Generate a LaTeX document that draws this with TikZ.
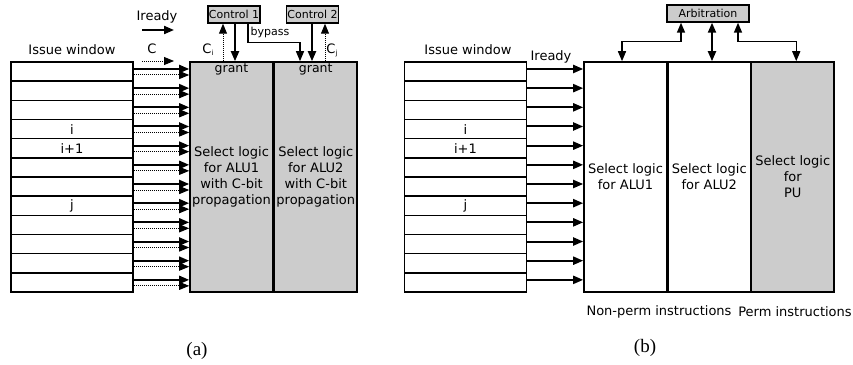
\documentclass[tikz,border=0pt]{standalone}
\usepackage{fontspec}
\setmainfont{DejaVu Sans}
\newfontfamily\capfont{Liberation Serif}
\usetikzlibrary{arrows.meta}

\tikzset{
    >={Triangle[length=10pt,width=8pt]},
    slot/.style={draw, line width=1.5pt, minimum width=122pt, minimum height=19.17pt, inner sep=0pt, font=\fontsize{13}{16}\selectfont},
    selbox/.style={draw, line width=1.6pt, minimum width=83pt, minimum height=230pt, inner sep=0pt, align=center, font=\fontsize{13}{16}\selectfont},
    ctrl/.style={draw, line width=1.4pt, fill=gray!40, inner sep=1pt, minimum height=17pt, font=\fontsize{11}{13}\selectfont},
    ready/.style={line width=2pt, ->},
    cbit/.style={line width=1pt, dash pattern=on 1pt off 1pt, ->},
    lbl/.style={inner sep=0pt, font=\fontsize{13}{16}\selectfont},
    small/.style={inner sep=0pt, font=\fontsize{11}{13}\selectfont},
    subcap/.style={inner sep=0pt, font=\capfont\fontsize{19}{22}\selectfont}
}

\begin{document}
\begin{tikzpicture}[x=1pt, y=-1pt]
    \useasboundingbox (0,0) rectangle (853,364);

    % ---------- (a) ----------
    % Issue window
    \node[lbl] (iwa) at (72,50) {Issue window};
    \foreach \k/\t in {1/{},2/{},3/{},4/i,5/i+1,6/{},7/{},8/j,9/{},10/{},11/{},12/{}}
        \node[slot] (wa\k) at (72, 52.415+19.17*\k) {\t};

    % Select logic blocks
    \node[selbox, fill=gray!40] (sa1) at (231.5,177) {Select logic\\for ALU1\\with C-bit\\propagation};
    \node[selbox, fill=gray!40] (sa2) at (315.75,177) {Select logic\\for ALU2\\with C-bit\\propagation};
    \node[small, font=\fontsize{12.5}{14}\selectfont, below=2pt] (ga1) at (sa1.north) {grant};
    \node[small, font=\fontsize{12.5}{14}\selectfont, below=2pt] (ga2) at (sa2.north) {grant};

    % Ready and C-bit lines
    \foreach \k in {1,...,12} {
        \draw[ready] ([yshift=2.6pt]wa\k.east) -- ([yshift=2.6pt]wa\k.east -| sa1.west);
        \draw[cbit] ([yshift=-3.4pt]wa\k.east) -- ([yshift=-3.4pt]wa\k.east -| sa1.west);
    }

    % Legend
    \node[lbl] (ira) at (157,17) {Iready};
    \coordinate (ira0) at (142,30);
    \draw[ready] (ira0) -- ++(32,0);
    \node[lbl] (cla) at (152,49) {C};
    \coordinate (cla0) at (142,61);
    \draw[cbit] (cla0) -- ++(32,0);

    % Control units
    \node[ctrl] (c1) at (234,14.5) {Control 1};
    \node[ctrl] (c2) at (312.5,14.5) {Control 2};
    \draw[ready] ([xshift=1pt]c1.south) -- ([xshift=1pt]c1.south |- sa1.north);
    \draw[cbit] ([xshift=-11pt]c1.south |- sa1.north) -- ([xshift=-11pt]c1.south);
    \draw[ready] ([xshift=-0.5pt]c2.south) -- ([xshift=-0.5pt]c2.south |- sa2.north);
    \draw[cbit] ([xshift=12.5pt]c2.south |- sa2.north) -- ([xshift=12.5pt]c2.south);
    \draw[line width=1.3pt, ->] ([xshift=14pt]c1.south) -- ++(0,19) -| ([xshift=-12.5pt]c2.south |- sa2.north);
    \node[small] (byp) at (270,32) {bypass};
    \node[lbl] (cia) at (208,50) {C\raisebox{-2pt}{\fontsize{7}{8}\selectfont i}};
    \node[lbl] (cja) at (332,50) {C\raisebox{-2pt}{\fontsize{7}{8}\selectfont j}};

    \node[subcap] (capa) at (197,351) {(a)};

    % ---------- (b) ----------
    % Issue window
    \node[lbl] (iwb) at (468,50) {Issue window};
    \foreach \k/\t in {1/{},2/{},3/{},4/i,5/i+1,6/{},7/{},8/j,9/{},10/{},11/{},12/{}}
        \node[slot] (wb\k) at (465.5, 52.415+19.17*\k) {\t};
    \node[lbl] (irb) at (551,57) {Iready};

    % Select logic blocks
    \node[selbox] (sb1) at (625.5,177) {Select logic\\for ALU1};
    \node[selbox] (sb2) at (709.25,177) {Select logic\\for ALU2};
    \node[selbox, fill=gray!40] (sb3) at (792.75,177) {Select logic\\for\\PU};

    \foreach \k in {1,...,12}
        \draw[ready] ([yshift=2.6pt]wb\k.east) -- ([yshift=2.6pt]wb\k.east -| sb1.west);

    % Arbitration
    \node[ctrl, minimum width=82pt] (arb) at (708,13.5) {Arbitration};
    \draw[line width=1.5pt, <->] ([xshift=-27pt]arb.south) -- ++(0,19) -| ([xshift=-3.5pt]sb1.north);
    \draw[line width=2pt, <->] ([xshift=4pt]arb.south) -- ([xshift=4pt]arb.south |- sb2.north);
    \draw[line width=1.5pt, <->] ([xshift=30pt]arb.south) -- ++(0,19) -| ([xshift=3.5pt]sb3.north);

    \node[lbl] (npi) at (659,312) {Non-perm instructions};
    \node[lbl] (pi) at (795,312) {Perm instructions};

    \node[subcap] (capb) at (645,348) {(b)};
\end{tikzpicture}
\end{document}
